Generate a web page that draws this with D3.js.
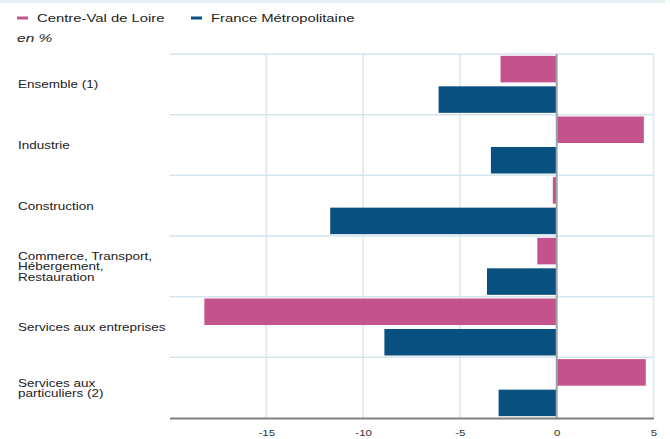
<!DOCTYPE html>
<html><head><meta charset="utf-8">
<script src="https://cdn.jsdelivr.net/npm/d3@7"></script>
<style>
html,body{margin:0;padding:0;background:#fff;}
svg{display:block;font-family:"Liberation Sans",Arial,sans-serif;}
</style></head>
<body>
<svg id="chart" width="670" height="439"></svg>
<script>
const categories = [
  ["Ensemble (1)"],
  ["Industrie"],
  ["Construction"],
  ["Commerce, Transport,", "Hébergement,", "Restauration"],
  ["Services aux entreprises"],
  ["Services aux", "particuliers (2)"]
];
const seriesNames = ["Centre-Val de Loire", "France Métropolitaine"];
const centreValues = [-2.9, 4.5, -0.2, -1.0, -18.2, 4.6];
const franceValues = [-6.1, -3.4, -11.7, -3.6, -8.9, -3.0];
const tickValues = [-15, -10, -5, 0, 5];
const colors = ["#c4528c", "#08507f"];

const SX = 1.35; // horizontal stretch of the text glyphs
const svg = d3.select("#chart");
const m = {left: 169.5, right: 653.5, top: 54, bottom: 418};

// top strip
svg.append("rect").attr("x",0).attr("y",0).attr("width",665).attr("height",3).attr("fill","#e4f0f4");

const x = d3.scaleLinear().domain([-20, 5]).range([m.left, m.right]);
const y = d3.scaleBand().domain(d3.range(categories.length)).range([m.top, m.bottom]).paddingInner(0).paddingOuter(0);
const ys = d3.scaleBand().domain([0,1]).range([0, y.bandwidth()]).paddingInner(0.13).paddingOuter(0.06);

// vertical grid
svg.append("g").selectAll("line").data(tickValues.filter(d=>d!==0)).join("line")
  .attr("x1",d=>x(d)).attr("x2",d=>x(d)).attr("y1",m.top).attr("y2",m.bottom)
  .attr("stroke","#e2edf3").attr("stroke-width",2);

// horizontal band separators
svg.append("g").selectAll("line").data(d3.range(categories.length)).join("line")
  .attr("x1",m.left).attr("x2",m.right).attr("y1",d=>y(d)).attr("y2",d=>y(d))
  .attr("stroke","#d3e6ee").attr("stroke-width",1.5);

// bars
const data = [centreValues, franceValues];
data.forEach((vals, s) => {
  svg.append("g").selectAll("rect").data(vals).join("rect")
    .attr("x", d => x(Math.min(0,d)))
    .attr("width", d => Math.abs(x(d)-x(0)))
    .attr("y", (d,i) => y(i) + ys(s))
    .attr("height", ys.bandwidth())
    .attr("fill", colors[s]);
});

// zero line
svg.append("line").attr("x1",x(0)).attr("x2",x(0)).attr("y1",m.top).attr("y2",m.bottom)
  .attr("stroke","#9aa5ab").attr("stroke-width",2);

// x axis
const xAxis = d3.axisBottom(x).tickValues(tickValues).tickSize(0).tickPadding(12).tickFormat(d3.format("d"));
const gx = svg.append("g").attr("transform",`translate(0,${m.bottom})`).call(xAxis);
gx.select(".domain").attr("stroke","#808080").attr("stroke-width",2);
gx.selectAll("text").attr("font-size",8.5).attr("fill","#333").attr("font-family","Liberation Sans, Arial, sans-serif")
  .attr("transform",`scale(${SX},1)`)
  .text(d => d < 0 ? "-" + Math.abs(d) : d);

// category labels
const lab = svg.append("g");
categories.forEach((lines, i) => {
  const cy = y(i) + y.bandwidth()/2;
  const lh = 10.3;
  const t = lab.append("text").attr("transform",`translate(18,0) scale(${SX},1)`)
    .attr("font-size",10).attr("fill","#222");
  lines.forEach((ln, k) => {
    t.append("tspan").attr("x",0).attr("y", cy + (k - (lines.length-1)/2)*lh + 4).text(ln);
  });
});

// legend
const lg = svg.append("g");
const legX = [17, 191];
seriesNames.forEach((n, i) => {
  lg.append("line").attr("x1",legX[i]).attr("x2",legX[i]+11).attr("y1",18).attr("y2",18)
    .attr("stroke",colors[i]).attr("stroke-width",3);
  lg.append("text").attr("transform",`translate(${legX[i]+20},22) scale(${SX},1)`)
    .attr("font-size",11).attr("fill","#222").text(n);
});
svg.append("text").attr("transform",`translate(17,42) scale(${SX},1)`)
  .attr("font-size",11.5).attr("font-style","italic").attr("fill","#222").text("en %");
</script>
</body></html>
